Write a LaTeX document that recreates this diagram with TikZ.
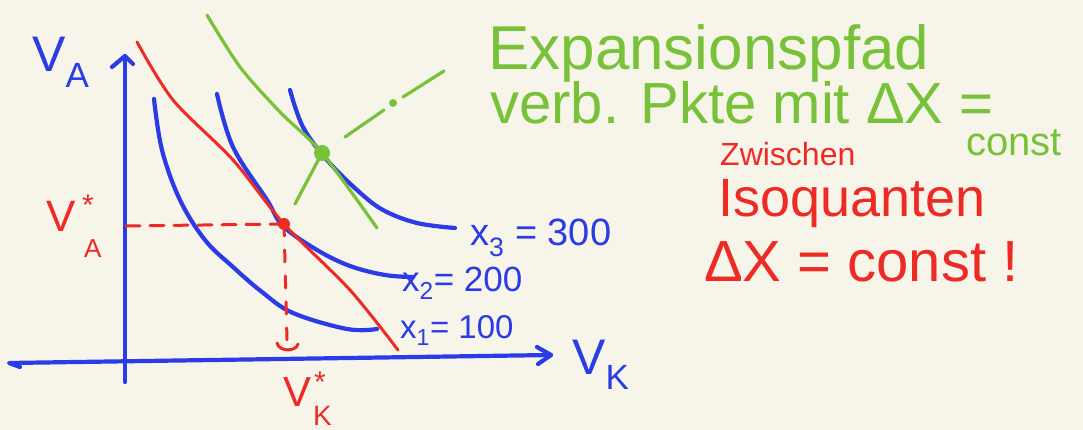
\documentclass[tikz,border=0pt]{standalone}
\usepackage{fontspec}
\setmainfont{Liberation Sans}
\usetikzlibrary{calc}
\definecolor{bg}{HTML}{F7F4EA}
\definecolor{pblue}{HTML}{2B3BE6}
\definecolor{pred}{HTML}{EE2A24}
\definecolor{pgreen}{HTML}{78C23A}
\tikzset{
  bluepen/.style={draw=pblue,line width=4.2pt,line cap=round,line join=round},
  redpen/.style={draw=pred,line width=3pt,line cap=round,line join=round},
  greenpen/.style={draw=pgreen,line width=3.2pt,line cap=round,line join=round},
  lbl/.style={inner sep=0pt,anchor=base west},
}
\begin{document}
\begin{tikzpicture}[x=1pt,y=-1pt]
\fill[bg] (0,0) rectangle (1083,430);
\useasboundingbox (0,0) rectangle (1083,430);

% axes
\coordinate (ybot) at (125,382);
\coordinate (ytop) at (125,56);
\coordinate (xleft) at (9,363);
\coordinate (xright) at (551,355);
\draw[bluepen] (ybot) -- (ytop);
\draw[bluepen] (112,67) -- (ytop) -- (133,64);
\draw[bluepen] (20,367) -- (xleft) -- (xright);
\draw[bluepen] (537,347) -- (xright) -- (538,364);

% isoquants
\draw[bluepen] plot[smooth,tension=0.6] coordinates {(154,99) (162,150) (180,200) (205,240) (233,267) (262,292) (293,313) (347,329) (377,329)};
\draw[bluepen] plot[smooth,tension=0.6] coordinates {(217,94) (233,147) (267,200) (283,226) (317,250) (350,266) (385,275) (413,277)};
\draw[bluepen] plot[smooth,tension=0.6] coordinates {(290,90) (303,127) (327,160) (357,190) (383,210) (417,223) (455,228)};

% budget line
\draw[redpen] plot[smooth,tension=0.5] coordinates {(137,42) (173,100) (233,160) (284,224) (350,290) (398,350)};

% green line
\draw[greenpen] plot[smooth,tension=0.5] coordinates {(207,15) (240,67) (280,112) (322,153) (377,228)};

% expansion path
\coordinate (ex0) at (295,204);
\node[circle,fill=pgreen,inner sep=0pt,minimum size=16pt] (E2) at (322,153) {};
\node[circle,fill=pgreen,inner sep=0pt,minimum size=8pt] (E3) at (393,103) {};
\coordinate (exa) at (345,137);
\coordinate (exb) at (384,110);
\coordinate (exc) at (403,97);
\coordinate (exd) at (444,71);
\draw[greenpen] (ex0) -- (E2.center);
\draw[greenpen] (exa) -- (exb);
\draw[greenpen] (exc) -- (exd);

% optimum
\node[circle,fill=pred,inner sep=0pt,minimum size=12pt] (P) at (284,224) {};
\coordinate (PA) at (122,226);
\coordinate (PK) at (287,340);
\draw[redpen,dashed,dash pattern=on 14pt off 10pt] (P.center) -- (PA);
\draw[redpen,dashed,dash pattern=on 12pt off 14pt] (P.center) -- (PK);
\draw[redpen] (277,343) .. controls (279,352) and (296,352) .. (298,344);

% axis labels
\node[lbl,text=pblue,font=\fontsize{50}{54}\selectfont] (VA) at (32,72) {V\textsubscript{A}};
\node[lbl,text=pblue,font=\fontsize{50}{54}\selectfont] (VK) at (572,374) {V\textsubscript{K}};
\node[lbl,text=pred,font=\fontsize{44}{48}\selectfont] (VAs) at (46,232) {V};
\node[lbl,text=pred,font=\fontsize{30}{32}\selectfont] (VAsup) at (82,216) {*};
\node[lbl,text=pred,font=\fontsize{26}{28}\selectfont] (VAsub) at (84,258) {A};
\node[lbl,text=pred,font=\fontsize{42}{46}\selectfont] (VKs) at (283,406) {V};
\node[lbl,text=pred,font=\fontsize{30}{32}\selectfont] (VKsup) at (314,392) {*};
\node[lbl,text=pred,font=\fontsize{28}{30}\selectfont] (VKsub) at (313,425) {K};

% isoquant labels
\node[lbl,text=pblue,font=\fontsize{38}{42}\selectfont] (L3) at (470,246) {x\textsubscript{3} = 300};
\node[lbl,text=pblue,font=\fontsize{35}{40}\selectfont] (L2) at (402,291) {x\textsubscript{2}= 200};
\node[lbl,text=pblue,font=\fontsize{33}{37}\selectfont] (L1) at (400,338) {x\textsubscript{1}= 100};

% green text
\node[lbl,text=pgreen,font=\fontsize{62}{66}\selectfont] (T1) at (488,70) {Expansionspfad};
\node[lbl,text=pgreen,font=\fontsize{58}{62}\selectfont] (T2) at (490,124) {verb. Pkte mit ΔX =};
\node[lbl,text=pgreen,font=\fontsize{40}{44}\selectfont] (T3) at (966,156) {const};

% red text
\node[lbl,text=pred,font=\fontsize{32}{36}\selectfont] (R1) at (720,166) {Zwischen};
\node[lbl,text=pred,font=\fontsize{54}{58}\selectfont] (R2) at (718,217) {Isoquanten};
\node[lbl,text=pred,font=\fontsize{58}{62}\selectfont] (R3) at (704,281) {ΔX = const !};
\end{tikzpicture}
\end{document}
